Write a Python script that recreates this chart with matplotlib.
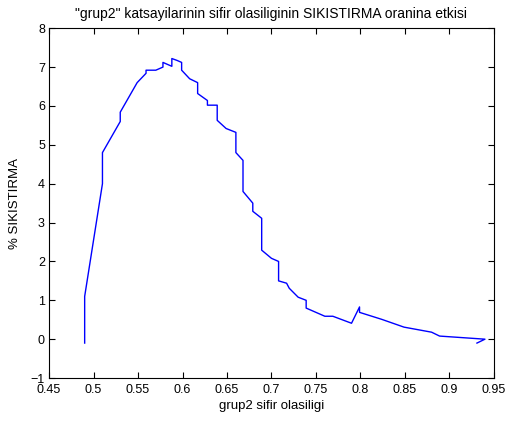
import matplotlib
matplotlib.use('Agg')
import matplotlib.pyplot as plt

plt.rcParams['font.family'] = ['Liberation Sans', 'DejaVu Sans']

xs = [0.49, 0.49, 0.51, 0.51, 0.53, 0.53, 0.549, 0.559, 0.559, 0.57, 0.578, 0.578,
      0.588, 0.588, 0.594, 0.599, 0.599, 0.608, 0.617, 0.617, 0.628, 0.628, 0.639,
      0.639, 0.649, 0.66, 0.66, 0.668, 0.668, 0.679, 0.679, 0.689, 0.689, 0.70,
      0.708, 0.708, 0.717, 0.72, 0.73, 0.739, 0.739, 0.76, 0.769, 0.79, 0.799,
      0.799, 0.824, 0.849, 0.88, 0.889, 0.94, 0.931]
ys = [-0.1, 1.1, 4.0, 4.8, 5.6, 5.84, 6.6, 6.84, 6.92, 6.92, 7.0, 7.12,
      7.02, 7.22, 7.17, 7.12, 6.92, 6.7, 6.6, 6.32, 6.14, 6.02, 6.02,
      5.63, 5.42, 5.32, 4.8, 4.6, 3.8, 3.5, 3.29, 3.11, 2.29, 2.08,
      2.0, 1.5, 1.44, 1.31, 1.08, 1.0, 0.8, 0.59, 0.59, 0.41, 0.83,
      0.69, 0.51, 0.31, 0.18, 0.08, 0.0, -0.1]

xticks = [0.45, 0.5, 0.55, 0.6, 0.65, 0.7, 0.75, 0.8, 0.85, 0.9, 0.95]
xticklabels = ['0.45', '0.5', '0.55', '0.6', '0.65', '0.7', '0.75', '0.8', '0.85', '0.9', '0.95']
yticks = [-1, 0, 1, 2, 3, 4, 5, 6, 7, 8]

fig = plt.figure(figsize=(5.06, 4.21), dpi=100)
ax = fig.add_axes([0.097, 0.102, 0.879, 0.831])
ax.plot(xs, ys, color='#0000ff', linewidth=1)
ax.set_xlim(0.45, 0.95)
ax.set_ylim(-1, 8)
ax.set_xticks(xticks)
ax.set_xticklabels(xticklabels)
ax.set_yticks(yticks)
ax.tick_params(direction='in', length=4, labelsize=9, top=True, right=True,
               labeltop=False, labelright=False)
ax.tick_params(axis='x', pad=4)
ax.tick_params(axis='y', pad=3)
ax.set_title('"grup2" katsayilarinin sifir olasiliginin SIKISTIRMA oranina etkisi',
             fontsize=10, pad=7)
ax.set_xlabel('grup2 sifir olasiligi', fontsize=9.5, labelpad=3)
ax.set_ylabel('% SIKISTIRMA', fontsize=9.5, labelpad=7)

fig.savefig('out.png', dpi=100)
